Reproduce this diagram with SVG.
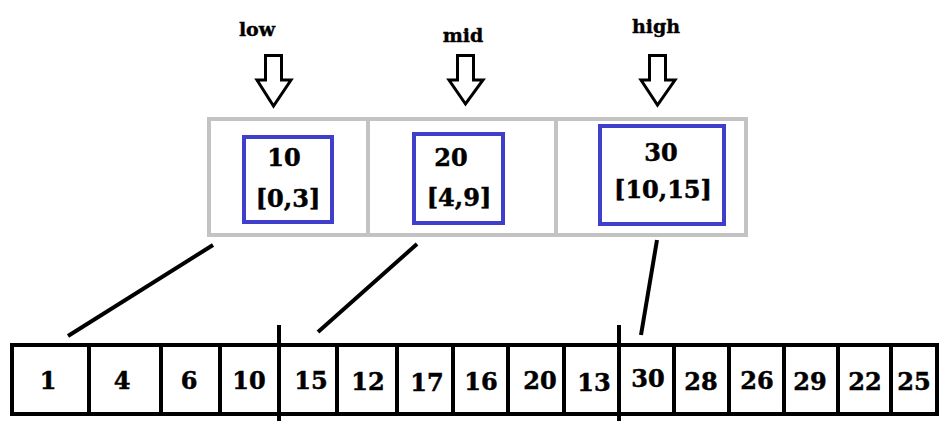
<svg xmlns="http://www.w3.org/2000/svg" width="945" height="422" viewBox="0 0 945 422">
<style>
.lbl{font-family:"DejaVu Serif","Liberation Serif",serif;font-weight:bold;font-size:19px;fill:#000;text-anchor:middle;stroke:#000;stroke-width:0.4}
.val{font-family:"DejaVu Serif","Liberation Serif",serif;font-weight:bold;font-size:24px;fill:#000;text-anchor:middle;stroke:#000;stroke-width:0.5}
.arr{fill:#fff;stroke:#000;stroke-width:3;stroke-linejoin:miter}
.blue{fill:#fff;stroke:#3f3fcc;stroke-width:4}
.cell{fill:none;stroke:#000;stroke-width:4}
.conn{stroke:#000;stroke-width:4;fill:none}
</style>
<rect width="945" height="422" fill="#fff"/>
<g id="pointers">
  <text class="lbl" x="257" y="36">low</text>
  <text class="lbl" x="463" y="42">mid</text>
  <text class="lbl" x="656" y="33">high</text>
  <path class="arr" d="M265.5,55.5 H281.5 V80 H291 L273.5,106 L257,80 H265.5 Z"/>
  <path class="arr" d="M457.5,55.5 H473.5 V80 H483 L465.5,104 L449,80 H457.5 Z"/>
  <path class="arr" d="M649.5,55.5 H665.5 V80 H675 L657.5,105 L641,80 H649.5 Z"/>
</g>
<g id="index-table">
  <rect x="209" y="119" width="537" height="116" fill="#fff" stroke="#c3c3c3" stroke-width="4"/>
  <line x1="368" y1="119" x2="368" y2="235" stroke="#c3c3c3" stroke-width="4"/>
  <line x1="556" y1="119" x2="556" y2="235" stroke="#c3c3c3" stroke-width="4"/>
</g>
<g id="node-10">
  <rect class="blue" x="244" y="137" width="88" height="85"/>
  <text class="val" x="284" y="166">10</text>
  <text class="val" x="288" y="207">[0,3]</text>
</g>
<g id="node-20">
  <rect class="blue" x="414" y="134" width="89" height="89"/>
  <text class="val" x="451" y="166">20</text>
  <text class="val" x="459" y="206">[4,9]</text>
</g>
<g id="node-30">
  <rect class="blue" x="600" y="126" width="124" height="98"/>
  <text class="val" x="661" y="161">30</text>
  <text class="val" x="663" y="198">[10,15]</text>
</g>
<g id="connectors">
  <line class="conn" x1="213" y1="245" x2="68" y2="336"/>
  <line class="conn" x1="417" y1="244" x2="318" y2="332"/>
  <line class="conn" x1="657" y1="240" x2="641" y2="335"/>
</g>
<g id="array">
  <rect class="cell" x="12" y="345" width="925" height="69"/>
  <g class="cell">
    <line class="cell" x1="89" y1="345" x2="89" y2="414"/>
    <line class="cell" x1="161" y1="345" x2="161" y2="414"/>
    <line class="cell" x1="220" y1="345" x2="220" y2="414"/>
    <line class="cell" x1="279" y1="325" x2="279" y2="421"/>
    <line class="cell" x1="337" y1="345" x2="337" y2="414"/>
    <line class="cell" x1="397" y1="345" x2="397" y2="414"/>
    <line class="cell" x1="453" y1="345" x2="453" y2="414"/>
    <line class="cell" x1="508" y1="345" x2="508" y2="414"/>
    <line class="cell" x1="564" y1="345" x2="564" y2="414"/>
    <line class="cell" x1="619" y1="325" x2="619" y2="421"/>
    <line class="cell" x1="674" y1="345" x2="674" y2="414"/>
    <line class="cell" x1="729" y1="345" x2="729" y2="414"/>
    <line class="cell" x1="784" y1="345" x2="784" y2="414"/>
    <line class="cell" x1="838" y1="345" x2="838" y2="414"/>
    <line class="cell" x1="891" y1="345" x2="891" y2="414"/>
  </g>
  <text class="val" x="48" y="389">1</text>
  <text class="val" x="122" y="389">4</text>
  <text class="val" x="189" y="389">6</text>
  <text class="val" x="249" y="389">10</text>
  <text class="val" x="311" y="389">15</text>
  <text class="val" x="368" y="390">12</text>
  <text class="val" x="427" y="391">17</text>
  <text class="val" x="481" y="390">16</text>
  <text class="val" x="540" y="389">20</text>
  <text class="val" x="594" y="391">13</text>
  <text class="val" x="648" y="387">30</text>
  <text class="val" x="701" y="390">28</text>
  <text class="val" x="757" y="389">26</text>
  <text class="val" x="810" y="390">29</text>
  <text class="val" x="865" y="390">22</text>
  <text class="val" x="914" y="390">25</text>
</g>
</svg>
